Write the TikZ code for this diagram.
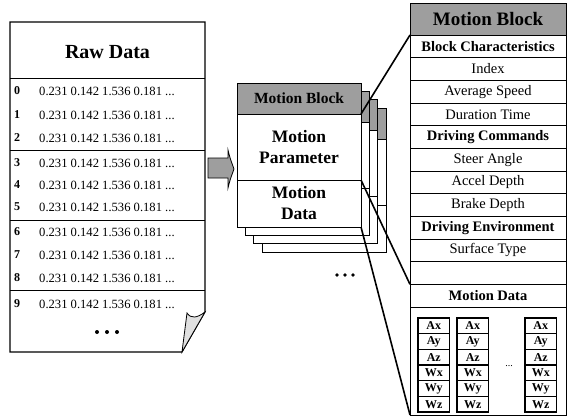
\documentclass[tikz,border=0pt]{standalone}
\usepackage{fontspec}
\setmainfont{Liberation Serif}
\definecolor{shade}{gray}{0.62}
\definecolor{flap}{gray}{0.88}
\begin{document}
\begin{tikzpicture}[x=1pt,y=-1pt]
\tikzset{
  frame/.style={line width=1.1pt},
  rule/.style={line width=0.8pt},
  idx/.style={inner sep=0pt, font=\fontsize{12}{14}\selectfont\bfseries},
  dat/.style={inner sep=0pt, anchor=west, font=\fontsize{12.6}{14}\selectfont},
  blockbox/.style={draw, line width=0.8pt, fill=white, inner sep=0pt, outer sep=0pt,
    anchor=north west, minimum width=124pt, align=center,
    font=\fontsize{17.5}{21}\selectfont\bfseries},
  blockhead/.style={blockbox, fill=shade, minimum height=31pt,
    font=\fontsize{15.5}{18}\selectfont\bfseries},
  rowr/.style={draw, line width=0.8pt, inner sep=0pt, outer sep=0pt, anchor=north west,
    minimum width=156pt, minimum height=22.67pt, font=\fontsize{14.5}{16}\selectfont},
  rowb/.style={rowr, font=\fontsize{14.5}{16}\selectfont\bfseries},
  panelhead/.style={rowr, fill=shade, minimum height=32pt,
    font=\fontsize{19}{21}\selectfont\bfseries},
  mini/.style={draw, line width=1.2pt, inner sep=0pt, outer sep=0pt, anchor=north west,
    minimum width=31.5pt, minimum height=15.67pt, font=\fontsize{12}{13}\selectfont\bfseries},
  conn/.style={line width=1.6pt},
  dotmark/.style={fill=black, draw=none}
}
\useasboundingbox (0,0) rectangle (570,418);

% raw data sheet with its curled corner
\draw[frame] (10,22) -- (205,22) -- (205,312) -- (182,352) -- (10,352) -- cycle;
\filldraw[fill=flap, line width=0.8pt] (182,352) -- (187,313)
  .. controls (191,319) and (197,318) .. (205,312) -- cycle;
\node[inner sep=0pt, font=\fontsize{20}{22}\selectfont\bfseries] (rawtitle) at (107.5,52) {Raw Data};
\foreach \y in {78,150,220,290} \draw[rule] (10,\y) -- (205,\y);
\foreach \i/\y in {0/91,1/115,2/138,3/163,4/185,5/207,6/232,7/255,8/278,9/304} {
  \node[idx] (n\i) at (17,\y) {\i};
  \node[dat] (d\i) at (39,\y) {0.231 0.142 1.536 0.181 ...};
}
\foreach \x in {97,107,117} \fill[dotmark] (\x,332) circle (2pt);

% block arrow
\filldraw[fill=shade, line width=0.8pt] (208,158) -- (228,158) -- (228,150)
  .. controls (230,158) .. (234,169) .. controls (230,180) .. (228,188)
  -- (228,178) -- (208,178) -- cycle;

% stacked motion blocks behind the front one
\foreach \k in {3,2,1} {
  \begin{scope}[shift={(8.3*\k,8.3*\k)}]
    \filldraw[fill=white, line width=0.8pt] (237,114) rectangle (361,227);
    \filldraw[fill=shade, line width=0.8pt] (237,83) rectangle (361,114);
    \draw[line width=0.8pt] (237,180) -- (361,180);
  \end{scope}
}
\node[blockhead] (fhead) at (237,83) {Motion Block};
\node[blockbox, minimum height=66pt] (fparam) at (237,114) {Motion\\Parameter};
\node[blockbox, minimum height=47pt] (fdata) at (237,180) {Motion\\Data};
\foreach \x in {337,345,353} \fill[dotmark] (\x,275) circle (1.9pt);

% expanded motion block
\node[panelhead] (rhead) at (410,3) {Motion Block};
\foreach \i/\t/\s in {1/{Block Characteristics}/rowb, 2/Index/rowr, 3/{Average Speed}/rowr,
    4/{Duration Time}/rowr, 5/{Driving Commands}/rowb, 6/{Steer Angle}/rowr,
    7/{Accel Depth}/rowr, 8/{Brake Depth}/rowr, 9/{Driving Environment}/rowb,
    10/{Surface Type}/rowr, 11/{}/rowr, 12/{Motion Data}/rowb}
  \node[\s] (r\i) at (410,{35+22.67*(\i-1)}) {\t};
\node[rowr, minimum height=108pt] (rdata) at (410,307) {};
\foreach \c/\x in {1/418,2/457,3/525}
  \foreach \i/\t in {0/Ax,1/Ay,2/Az,3/Wx,4/Wy,5/Wz}
    \node[mini] (m\c\i) at (\x,{318+15.67*\i}) {\t};
\node[inner sep=0pt, font=\fontsize{10}{12}\selectfont] (mdots) at (509,366) {...};

% connectors from the front block to the expanded view
\draw[conn] (fhead.south east) -- (r1.north west);
\draw[conn] (fparam.south east) -- (r12.north west);
\draw[conn] (fdata.south east) -- (rdata.south west);
\end{tikzpicture}
\end{document}
